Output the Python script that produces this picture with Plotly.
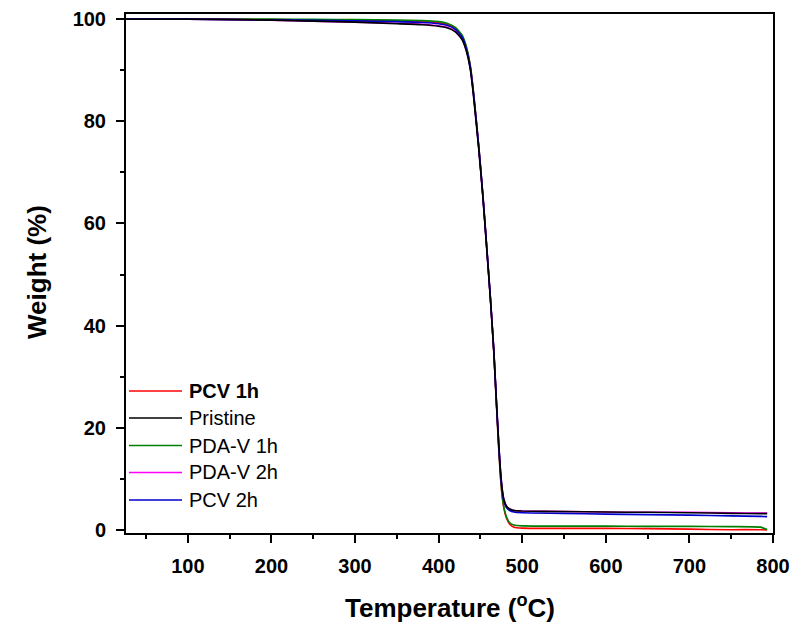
import plotly.graph_objects as go

# Temperature (°C)
temps = [26, 100, 160, 200, 250, 300, 350, 380, 400, 410, 420, 428, 433, 438, 442, 448,
         453, 458, 462, 466, 469, 472, 474, 476, 478, 481, 485, 490, 500, 550, 600, 650,
         700, 750, 785, 793]

# Weight (%) per sample
pcv_1h = [100, 100, 99.95, 99.9, 99.85, 99.8, 99.65, 99.5, 99.3, 99.0, 98.2, 96.7, 94.5, 90.6,
          85.1, 75.0, 65.3, 54.3, 45.1, 34.8, 25.0, 15.6, 10.3, 6.6, 4.3, 2.4, 1.1, 0.55, 0.35,
          0.3, 0.3, 0.25, 0.15, 0.05, 0.05, 0.0]
pristine = [100, 100, 99.9, 99.8, 99.6, 99.4, 99.1, 98.9, 98.6, 98.3, 97.5, 96.0, 93.8, 90.0,
            84.5, 74.5, 65.0, 54.0, 45.0, 35.0, 25.5, 16.5, 11.5, 8.0, 6.0, 4.7, 4.1, 3.8, 3.7,
            3.6, 3.5, 3.45, 3.35, 3.25, 3.2, 3.2]
pda_v_1h = [100, 100, 100, 100, 99.95, 99.9, 99.8, 99.7, 99.5, 99.2, 98.4, 96.9, 94.7, 90.8,
            85.3, 75.2, 65.5, 54.5, 45.3, 35.0, 25.2, 15.8, 10.5, 6.8, 4.5, 2.6, 1.4, 0.95, 0.8,
            0.75, 0.75, 0.7, 0.7, 0.65, 0.55, 0.1]
pda_v_2h = [100, 100, 99.9, 99.8, 99.6, 99.4, 99.2, 99.0, 98.7, 98.4, 97.6, 96.1, 94.0, 90.2,
            84.8, 74.8, 65.2, 54.2, 45.2, 35.2, 25.6, 16.6, 11.6, 8.1, 6.0, 4.7, 4.1, 3.8, 3.7,
            3.6, 3.5, 3.45, 3.45, 3.35, 3.3, 3.3]
pcv_2h = [100, 100, 99.9, 99.85, 99.75, 99.65, 99.5, 99.35, 99.1, 98.8, 98.0, 96.5, 94.3, 90.5,
          85.0, 75.0, 65.3, 54.2, 45.2, 35.2, 25.6, 16.5, 11.4, 7.8, 5.7, 4.4, 3.8, 3.5, 3.35,
          3.25, 3.1, 3.0, 2.9, 2.75, 2.65, 2.6]

names = ["<b>PCV 1h</b>", "Pristine", "PDA-V 1h", "PDA-V 2h", "PCV 2h"]
colors = ["#FF0000", "#000000", "#008000", "#FF00FF", "#0000CC"]
series = [pcv_1h, pristine, pda_v_1h, pda_v_2h, pcv_2h]

x_ticks = [100, 200, 300, 400, 500, 600, 700, 800]
y_ticks = [0, 20, 40, 60, 80, 100]

FONT = "Liberation Sans, Arial, sans-serif"

fig = go.Figure()
draw_order = [0, 2, 3, 4, 1]
for i in draw_order:
    fig.add_trace(go.Scatter(x=temps, y=series[i], mode="lines", name=names[i],
                             line=dict(color=colors[i], width=1.6, shape="spline", smoothing=0.5),
                             showlegend=False, hoverinfo="skip"))

# page body has an 8px margin; figure coordinates = screen - 8
OFF = 8
W, H = 810 - 2 * OFF, 631 - 2 * OFF
L, T = 126 - OFF, 14 - OFF
R = W - (773 - OFF)
B = H - (533 - OFF)
pw, ph = W - L - R, H - T - B

def px(xs):
    return (xs - OFF - L) / pw

def py(ys):
    return (H - B - (ys - OFF)) / ph

# manual legend
leg_rows = [391, 418, 445.5, 472.5, 500]
for name, col, yr in zip(names, colors, leg_rows):
    fig.add_shape(type="line", xref="paper", yref="paper", x0=px(129), x1=px(182),
                  y0=py(yr), y1=py(yr), line=dict(color=col, width=1.6))
    fig.add_annotation(xref="paper", yref="paper", x=px(187), y=py(yr), text=name,
                       showarrow=False, xanchor="left", yanchor="middle",
                       font=dict(family=FONT, size=20, color="#000"))

# axis titles
fig.add_annotation(xref="paper", yref="paper", x=px(450), y=py(606), text="<b>Temperature (<sup>o</sup>C)</b>",
                   showarrow=False, xanchor="center", yanchor="middle",
                   font=dict(family=FONT, size=26, color="#000"))
fig.add_annotation(xref="paper", yref="paper", x=px(37), y=py(272), text="<b>Weight (%)</b>",
                   showarrow=False, xanchor="center", yanchor="middle", textangle=-90,
                   font=dict(family=FONT, size=26, color="#000"))

axis_common = dict(showgrid=False, zeroline=False, showline=True, linecolor="#000", linewidth=2,
                   mirror=True, ticks="outside", ticklen=8, tickwidth=2, tickcolor="#000",
                   tickfont=dict(family=FONT, size=20, color="#000", weight="bold"))

fig.update_xaxes(range=[26, 800], tickvals=x_ticks, ticktext=[str(v) for v in x_ticks],
                 minor=dict(ticks="outside", ticklen=4, tickwidth=2, tickcolor="#000", dtick=50, tick0=0),
                 ticklabelstandoff=6, automargin=False, **axis_common)
fig.update_yaxes(range=[-0.6, 101], tickvals=y_ticks, ticktext=[str(v) for v in y_ticks],
                 minor=dict(ticks="outside", ticklen=4, tickwidth=2, tickcolor="#000", dtick=10, tick0=0),
                 ticklabelstandoff=6, automargin=False, **axis_common)

fig.update_layout(width=W, height=H, margin=dict(l=L, r=R, t=T, b=B, autoexpand=False),
                  plot_bgcolor="white", paper_bgcolor="white", showlegend=False)

fig.write_html("out.html")
